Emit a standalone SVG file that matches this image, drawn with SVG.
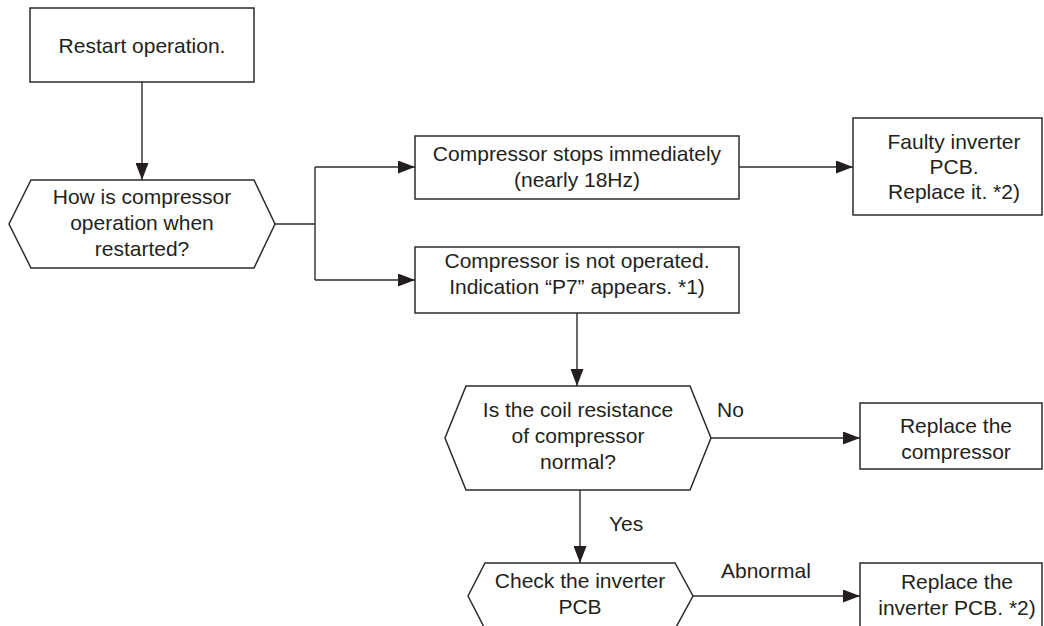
<svg xmlns="http://www.w3.org/2000/svg" width="1044" height="626" viewBox="0 0 1044 626">
  <style>
    .box { fill: #ffffff; stroke: #2b2b2b; stroke-width: 1.5; }
    .wire { fill: none; stroke: #2b2b2b; stroke-width: 1.4; }
    .t { font-family: "Liberation Sans", Arial, sans-serif; font-size: 21px; fill: #231f20; text-anchor: middle; }
    .lbl { font-family: "Liberation Sans", Arial, sans-serif; font-size: 21px; fill: #231f20; }
  </style>
  <defs>
    <marker id="arrow" markerUnits="userSpaceOnUse" markerWidth="17" markerHeight="13" viewBox="0 0 17 13" refX="17" refY="6.5" orient="auto">
      <path d="M0,0 L17,6.5 L0,13 Z" fill="#231f20"/>
    </marker>
  </defs>
  <rect width="1044" height="626" fill="#ffffff"/>

  <!-- connectors -->
  <g id="connectors">
    <line class="wire" x1="142" y1="82" x2="142" y2="180" marker-end="url(#arrow)"/>
    <polyline class="wire" points="275,224 315,224"/>
    <line class="wire" x1="315" y1="167" x2="315" y2="280"/>
    <line class="wire" x1="315" y1="167" x2="415" y2="167" marker-end="url(#arrow)"/>
    <line class="wire" x1="315" y1="280" x2="415" y2="280" marker-end="url(#arrow)"/>
    <line class="wire" x1="739" y1="167" x2="853" y2="167" marker-end="url(#arrow)"/>
    <line class="wire" x1="577" y1="313" x2="577" y2="386" marker-end="url(#arrow)"/>
    <line class="wire" x1="711" y1="438" x2="860" y2="438" marker-end="url(#arrow)"/>
    <line class="wire" x1="580" y1="490" x2="580" y2="563" marker-end="url(#arrow)"/>
    <line class="wire" x1="693" y1="596" x2="860" y2="596" marker-end="url(#arrow)"/>
    <text class="lbl" x="717" y="417">No</text>
    <text class="lbl" x="609" y="531">Yes</text>
    <text class="lbl" x="721" y="578">Abnormal</text>
  </g>

  <g id="restart">
    <rect class="box" x="30" y="8" width="224" height="74"/>
    <text class="t" x="142" y="53">Restart operation.</text>
  </g>

  <g id="how-operation">
    <polygon class="box" points="9,224 31,180 254,180 275,224 254,268 31,268"/>
    <text class="t" x="142" y="204">How is compressor</text>
    <text class="t" x="142" y="230">operation when</text>
    <text class="t" x="142" y="256">restarted?</text>
  </g>

  <g id="stops-immediately">
    <rect class="box" x="415" y="136" width="324" height="63"/>
    <text class="t" x="577" y="161">Compressor stops immediately</text>
    <text class="t" x="577" y="187">(nearly 18Hz)</text>
  </g>

  <g id="not-operated">
    <rect class="box" x="415" y="247" width="324" height="66"/>
    <text class="t" x="577" y="268">Compressor is not operated.</text>
    <text class="t" x="577" y="294">Indication “P7” appears. *1)</text>
  </g>

  <g id="faulty-pcb">
    <rect class="box" x="853" y="118" width="189" height="97"/>
    <text class="t" x="954" y="149">Faulty inverter</text>
    <text class="t" x="954" y="174">PCB.</text>
    <text class="t" x="954" y="199">Replace it. *2)</text>
  </g>

  <g id="coil-resistance">
    <polygon class="box" points="445,438 466,386 690,386 711,438 690,490 466,490"/>
    <text class="t" x="578" y="417">Is the coil resistance</text>
    <text class="t" x="578" y="443">of compressor</text>
    <text class="t" x="578" y="469">normal?</text>
  </g>

  <g id="replace-compressor">
    <rect class="box" x="860" y="403" width="182" height="66"/>
    <text class="t" x="956" y="433">Replace the</text>
    <text class="t" x="956" y="459">compressor</text>
  </g>

  <g id="check-pcb">
    <polygon class="box" points="468,596 485,563 675,563 693,596 675,629 485,629"/>
    <text class="t" x="580" y="588">Check the inverter</text>
    <text class="t" x="580" y="614">PCB</text>
  </g>

  <g id="replace-pcb">
    <rect class="box" x="860" y="563" width="182" height="80"/>
    <text class="t" x="957" y="589">Replace the</text>
    <text class="t" x="957" y="615">inverter PCB. *2)</text>
  </g>
</svg>
